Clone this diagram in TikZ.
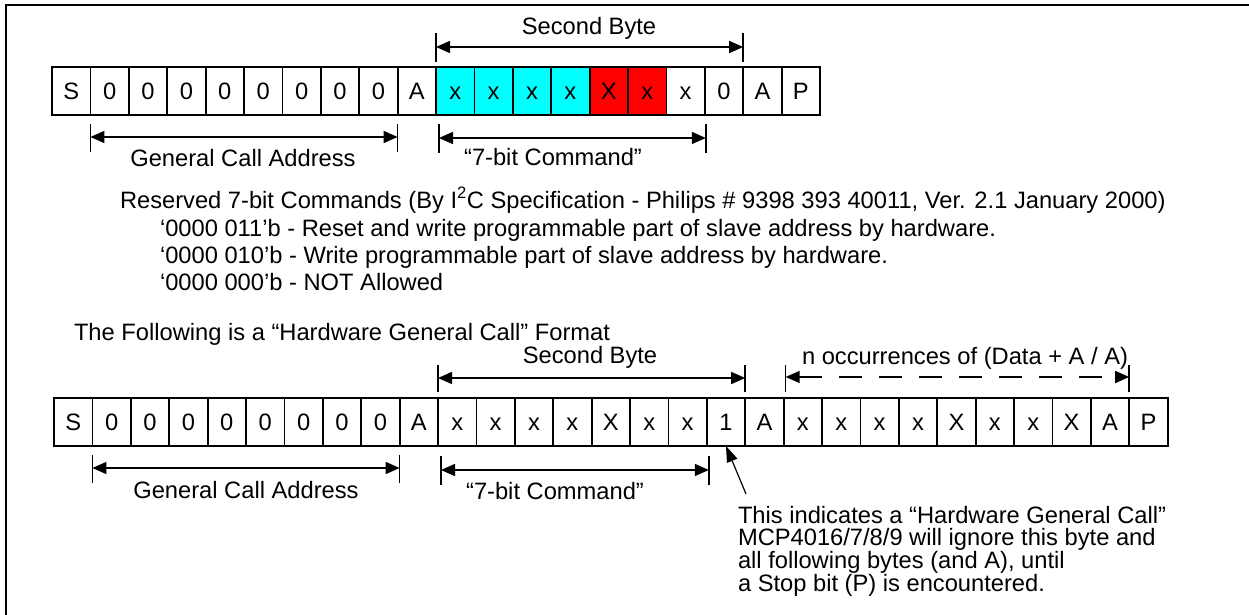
\documentclass[tikz,border=0pt]{standalone}
\usepackage{fontspec}
\setmainfont{Liberation Sans}
\usetikzlibrary{arrows.meta,calc}
\definecolor{cellcyan}{RGB}{0,255,255}
\definecolor{cellred}{RGB}{255,0,0}
\newcommand{\txtfont}{\fontsize{23.7}{22}\selectfont}
\begin{document}
\begin{tikzpicture}[x=1pt,y=-1pt,
  cell/.style={draw, line width=1.8pt, minimum width=38.4pt, minimum height=48pt,
    inner sep=0pt, outer sep=0pt, anchor=north west, text height=17pt, text depth=0pt, font=\txtfont},
  lbl/.style={inner sep=0pt, outer sep=0pt, font=\txtfont},
  tip/.style={Triangle[length=14pt,width=12pt]},
  dimline/.style={line width=1.5pt, {Triangle[length=14pt,width=12pt]}-{Triangle[length=14pt,width=12pt]}},
  dimdash/.style={dimline, dash pattern=on 23pt off 17pt},
  tick/.style={line width=1.5pt},
  ptr/.style={line width=1.2pt, -{Triangle[length=16pt,width=11pt]}},
  frameline/.style={line width=2.2pt}
]
\useasboundingbox (0,0) rectangle (1249,615);
\draw[frameline] (1249,5) -- (6,5) -- (6,615);

% ---------- top frame ----------
\foreach \c/\f [count=\i] in {S/white,0/white,0/white,0/white,0/white,0/white,0/white,0/white,0/white,A/white,
  x/cellcyan,x/cellcyan,x/cellcyan,x/cellcyan,X/cellred,x/cellred,x/white,0/white,A/white,P/white}{
  \node[cell, fill=\f] (t\i) at ({52+(\i-1)*38.4},67) {\c};
}
% Second Byte
\coordinate (sbtl) at ($(t11.north west)+(0,-20)$);
\coordinate (sbtr) at ($(t18.north east)+(0,-20)$);
\draw[tick] ($(t11.north west)+(0,-34)$) -- ($(t11.north west)+(0,-5)$);
\draw[tick] ($(t18.north east)+(0,-34)$) -- ($(t18.north east)+(0,-5)$);
\draw[dimline] (sbtl) -- (sbtr);
\node[lbl] (sbtlabel) at (589,28) {Second Byte};
% General Call Address
\coordinate (gatl) at ($(t2.south west)+(0,22)$);
\coordinate (gatr) at ($(t10.south west)+(0,22)$);
\draw[tick] ($(t2.south west)+(0,9)$) -- ($(t2.south west)+(0,37)$);
\draw[tick] ($(t10.south west)+(0,9)$) -- ($(t10.south west)+(0,37)$);
\draw[dimline] (gatl) -- (gatr);
\node[lbl] (gatlabel) at (243,158) {General Call Address};
% 7-bit Command
\coordinate (cmtl) at ($(t11.south west)+(3,23)$);
\coordinate (cmtr) at ($(t18.south west)+(1,23)$);
\draw[tick] ($(t11.south west)+(3,9)$) -- ($(t11.south west)+(3,38)$);
\draw[tick] ($(t18.south west)+(1,9)$) -- ($(t18.south west)+(1,38)$);
\draw[dimline] (cmtl) -- (cmtr);
\node[lbl] (cmtlabel) at (553,157) {“7-bit Command”};

% ---------- reserved commands ----------
\node[lbl, anchor=base west] (res0) at (120,208) {Reserved 7-bit Commands (By I\textsuperscript{2}C Specification - Philips \# 9398 393 40011, Ver. 2.1 January 2000)};
\node[lbl, anchor=base west] (res1) at (160,236) {‘0000 011’b - Reset and write programmable part of slave address by hardware.};
\node[lbl, anchor=base west] (res2) at (160,263) {‘0000 010’b - Write programmable part of slave address by hardware.};
\node[lbl, anchor=base west] (res3) at (160,290) {‘0000 000’b - NOT Allowed};

\node[lbl, anchor=base west] (follow) at (74,340) {The Following is a “Hardware General Call” Format};

% ---------- bottom frame ----------
\foreach \c [count=\i] in {S,0,0,0,0,0,0,0,0,A,x,x,x,x,X,x,x,1,A,x,x,x,x,X,x,x,X,A,P}{
  \node[cell] (b\i) at ({54+(\i-1)*38.4},398) {\c};
}
% Second Byte
\coordinate (sbbl) at ($(b11.north west)+(0,-20)$);
\coordinate (sbbr) at ($(b18.north east)+(0,-20)$);
\draw[tick] ($(b11.north west)+(0,-33)$) -- ($(b11.north west)+(0,-6)$);
\draw[tick] ($(b18.north east)+(0,-33)$) -- ($(b18.north east)+(0,-6)$);
\draw[dimline] (sbbl) -- (sbbr);
\node[lbl] (sbblabel) at (590,357) {Second Byte};
% n occurrences
\coordinate (nol) at ($(b20.north west)+(2,-21)$);
\coordinate (nor) at ($(b28.north east)+(0,-21)$);
\draw[tick] ($(b20.north west)+(2,-33)$) -- ($(b20.north west)+(2,-6)$);
\draw[tick] ($(b28.north east)+(0,-33)$) -- ($(b28.north east)+(0,-6)$);
\draw[dimdash] (nol) -- (nor);
\node[lbl, anchor=base west] (nolabel) at (802,364) {n occurrences of (Data + A / A)};
% General Call Address
\coordinate (gabl) at ($(b2.south west)+(0,22)$);
\coordinate (gabr) at ($(b10.south west)+(0,22)$);
\draw[tick] ($(b2.south west)+(0,9)$) -- ($(b2.south west)+(0,37)$);
\draw[tick] ($(b10.south west)+(0,9)$) -- ($(b10.south west)+(0,37)$);
\draw[dimline] (gabl) -- (gabr);
\node[lbl] (gablabel) at (246,490) {General Call Address};
% 7-bit Command
\coordinate (cmbl) at ($(b11.south west)+(3,24)$);
\coordinate (cmbr) at ($(b18.south west)+(2,24)$);
\draw[tick] ($(b11.south west)+(3,10)$) -- ($(b11.south west)+(3,39)$);
\draw[tick] ($(b18.south west)+(2,10)$) -- ($(b18.south west)+(2,39)$);
\draw[dimline] (cmbl) -- (cmbr);
\node[lbl] (cmblabel) at (555,491) {“7-bit Command”};

% ---------- note ----------
\node[lbl, anchor=north west, align=left] (note) at (738,506)
  {This indicates a “Hardware General Call”\\
   MCP4016/7/8/9 will ignore this byte and\\
   all following bytes (and A), until\\
   a Stop bit (P) is encountered.};
\coordinate (ptrtail) at (746,494);
\draw[ptr] (ptrtail) -- (b18.south);
\end{tikzpicture}
\end{document}
